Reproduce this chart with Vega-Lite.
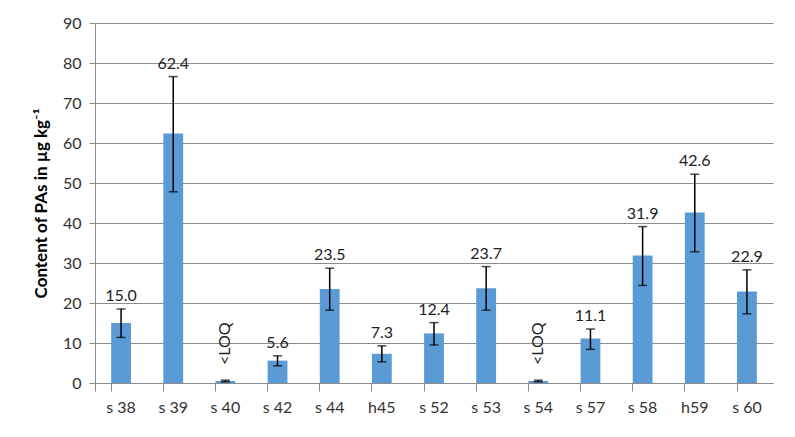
{
  "$schema": "https://vega.github.io/schema/vega-lite/v6.json",
  "autosize": "none",
  "width": 678,
  "height": 360,
  "padding": {"left": 95, "top": 23, "right": 22, "bottom": 54},
  "background": "white",
  "config": {
    "view": {"stroke": null},
    "font": "Lato",
    "axisY": {"tickCount": 10, "labelOverlap": false, "labelFontSize": 16, "labelColor": "#333333",
      "labelPadding": 8, "tickSize": 6, "tickColor": "#8c8c8c", "domainColor": "#8c8c8c",
      "gridColor": "#8c8c8c", "gridWidth": 1, "titleFontSize": 17, "titleFontWeight": "bold",
      "titleColor": "#000000", "titlePadding": 12}
  },
  "data": {"values": [
    {"s": "s 38", "v": 15.0, "lo": 11.4, "hi": 18.5, "lab": "15.0", "loq": false},
    {"s": "s 39", "v": 62.4, "lo": 47.8, "hi": 76.6, "lab": "62.4", "loq": false},
    {"s": "s 40", "v": 0.5, "lo": 0.3, "hi": 0.7, "lab": "<LOQ", "loq": true},
    {"s": "s 42", "v": 5.6, "lo": 4.3, "hi": 6.8, "lab": "5.6", "loq": false},
    {"s": "s 44", "v": 23.5, "lo": 18.2, "hi": 28.7, "lab": "23.5", "loq": false},
    {"s": "h45", "v": 7.3, "lo": 5.3, "hi": 9.3, "lab": "7.3", "loq": false},
    {"s": "s 52", "v": 12.4, "lo": 9.5, "hi": 15.1, "lab": "12.4", "loq": false},
    {"s": "s 53", "v": 23.7, "lo": 18.2, "hi": 29.1, "lab": "23.7", "loq": false},
    {"s": "s 54", "v": 0.5, "lo": 0.3, "hi": 0.7, "lab": "<LOQ", "loq": true},
    {"s": "s 57", "v": 11.1, "lo": 8.4, "hi": 13.5, "lab": "11.1", "loq": false},
    {"s": "s 58", "v": 31.9, "lo": 24.4, "hi": 39.1, "lab": "31.9", "loq": false},
    {"s": "h59", "v": 42.6, "lo": 32.8, "hi": 52.2, "lab": "42.6", "loq": false},
    {"s": "s 60", "v": 22.9, "lo": 17.3, "hi": 28.3, "lab": "22.9", "loq": false}
  ]},
  "encoding": {
    "x": {"field": "s", "type": "nominal", "sort": null,
      "scale": {"paddingInner": 0.62, "paddingOuter": 0.31},
      "axis": {"title": null, "labelAngle": 0, "labelFontSize": 16, "labelColor": "#333333",
        "labelPadding": 8, "tickSize": 8, "tickColor": "#8c8c8c", "domainColor": "#8c8c8c",
        "bandPosition": 0, "grid": false, "tickExtra": true}}
  },
  "layer": [
    {
      "mark": {"type": "bar", "color": "#5B9BD5"},
      "encoding": {
        "y": {"field": "v", "type": "quantitative",
          "scale": {"domain": [0, 90], "nice": false},
          "axis": {"title": "Content of PAs in µg kg⁻¹"}}
      }
    },
    {
      "mark": {"type": "rule", "color": "#000000", "strokeWidth": 1.5},
      "encoding": {"y": {"field": "lo", "type": "quantitative"}, "y2": {"field": "hi"}}
    },
    {
      "mark": {"type": "tick", "color": "#000000", "size": 9, "thickness": 1.5},
      "encoding": {"y": {"field": "lo", "type": "quantitative"}}
    },
    {
      "mark": {"type": "tick", "color": "#000000", "size": 9, "thickness": 1.5},
      "encoding": {"y": {"field": "hi", "type": "quantitative"}}
    },
    {
      "transform": [{"filter": "!datum.loq"}],
      "mark": {"type": "text", "fontSize": 16, "color": "#222222", "baseline": "bottom", "dy": -5},
      "encoding": {"y": {"field": "hi", "type": "quantitative"}, "text": {"field": "lab"}}
    },
    {
      "transform": [{"filter": "datum.loq"}],
      "mark": {"type": "text", "fontSize": 16, "color": "#222222", "angle": 270, "align": "left", "baseline": "middle", "dx": 16},
      "encoding": {"y": {"field": "v", "type": "quantitative"}, "text": {"field": "lab"}}
    }
  ]
}
